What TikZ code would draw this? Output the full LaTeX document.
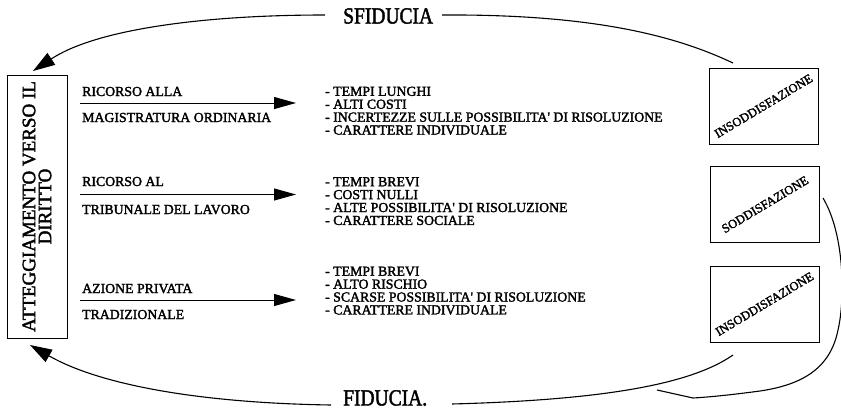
\documentclass[tikz,border=0pt]{standalone}
\usepackage{fontspec}
\usepackage{graphicx}
\setmainfont{Liberation Serif}
\newfontfamily\rfa{Liberation Serif}[FakeBold=2]
\usetikzlibrary{arrows.meta}
\begin{document}
\begin{tikzpicture}[x=1pt,y=-1pt,
  lbl/.style={anchor=base west,inner sep=0pt,font=\rfa\fontsize{13.8}{13}\selectfont},
  lst/.style={anchor=north west,inner sep=0pt,align=left,font=\rfa\fontsize{13.8}{12.9}\selectfont},
  sbox/.style={draw,line width=0.9pt,minimum width=109pt,minimum height=76pt,inner sep=0pt,
               font=\rfa\fontsize{12.6}{12}\selectfont},
  flow/.style={line width=1pt,-{Triangle[length=22pt,width=12pt]}},
  curve/.style={line width=1.1pt},
  curvearrow/.style={line width=1.1pt,-{Triangle[length=22pt,width=14pt]}},
  big/.style={inner sep=0pt,font=\rfa\fontsize{19.5}{20}\selectfont},
]
\useasboundingbox (0,0) rectangle (841,410);

% left box
\node[draw,line width=0.9pt,rotate=90,minimum width=263pt,minimum height=60pt,inner sep=0pt,
      align=center,font=\rfa\fontsize{19}{16}\selectfont] (att) at (37,206.5)
      {ATTEGGIAMENTO VERSO IL\\DIRITTO};

% titles
\node[big,anchor=west] (sf) at (343,16) {\scalebox{1}[1.18]{SFIDUCIA}};
\node[big,anchor=west] (fi) at (343,398) {\scalebox{1}[1.18]{FIDUCIA.}};
\coordinate (sfl) at (325,15);
\coordinate (sfr) at (442,15);
\coordinate (fil) at (331,405);
\coordinate (fir) at (452,404);
\coordinate (tipT) at (33,71);
\coordinate (tipB) at (30,345);

% row labels and arrows
\node[lbl] (r1a) at (82,96) {RICORSO ALLA};
\node[lbl] (r1b) at (82,122) {MAGISTRATURA ORDINARIA};
\coordinate (a1s) at (80,103);
\coordinate (a1e) at (296,103);
\draw[flow] (a1s) -- (a1e);

\node[lbl] (r2a) at (82,186) {RICORSO AL};
\node[lbl] (r2b) at (82,214) {TRIBUNALE DEL LAVORO};
\coordinate (a2s) at (80,194.5);
\coordinate (a2e) at (296,194.5);
\draw[flow] (a2s) -- (a2e);

\node[lbl] (r3a) at (82,293) {AZIONE PRIVATA};
\node[lbl] (r3b) at (82,319) {TRADIZIONALE};
\coordinate (a3s) at (80,300);
\coordinate (a3e) at (296,300);
\draw[flow] (a3s) -- (a3e);

% lists
\node[lst] (l1) at (325,86.5) {- TEMPI LUNGHI\\- ALTI COSTI\\- INCERTEZZE SULLE POSSIBILITA' DI RISOLUZIONE\\- CARATTERE INDIVIDUALE};
\node[lst] (l2) at (325,177) {- TEMPI BREVI\\- COSTI NULLI\\- ALTE POSSIBILITA' DI RISOLUZIONE\\- CARATTERE SOCIALE};
\node[lst] (l3) at (325,266.5) {- TEMPI BREVI\\- ALTO RISCHIO\\- SCARSE POSSIBILITA' DI RISOLUZIONE\\- CARATTERE INDIVIDUALE};

% right boxes
\node[sbox] (b1) at (763.5,106) {\rotatebox{31}{INSODDISFAZIONE}};
\node[sbox] (b2) at (765,204.5) {\rotatebox{31}{SODDISFAZIONE}};
\node[sbox] (b3) at (764.5,304) {\rotatebox{31}{INSODDISFAZIONE}};

% curves
\coordinate (se) at (733,63);
\coordinate (fe) at (733,355);
\coordinate (s2) at (823,198);
\coordinate (v) at (693,398);
\coordinate (m) at (657,390);
\draw[curvearrow] (sfl) .. controls (200,15) and (95,30) .. (tipT);
\draw[curve] (sfr) .. controls (600,14) and (680,38) .. (se);
\draw[curvearrow] (fil) .. controls (200,403) and (100,385) .. (tipB);
\draw[curve] (fir) .. controls (600,400) and (690,385) .. (fe);
\draw[curve] (s2) .. controls (845,235) and (845,300) .. (838,330)
   .. controls (830,370) and (800,385) .. (760,391)
   .. controls (730,395) and (710,397) .. (v) -- (m);
\end{tikzpicture}
\end{document}
